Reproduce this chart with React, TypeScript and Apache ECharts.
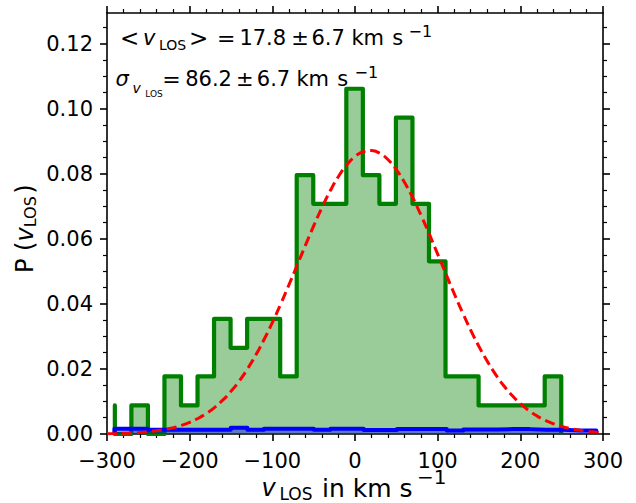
import React, { useEffect, useRef } from "react";
import * as echarts from "echarts";

// Histogram (green) bin edges and probabilities
const greenEdges = [
  -290.5, -270.5, -250.5, -230.5, -210.5, -190.5, -170.5, -150.5, -130.5, -110.5,
  -90.5, -70.5, -50.5, -30.5, -10.5, 9.5, 29.5, 49.5, 69.5, 89.5,
  109.5, 129.5, 149.5, 169.5, 189.5, 209.5, 229.5, 249.5,
];
const greenValues = [
  0, 0.0088, 0, 0.0177, 0.0088, 0.0177, 0.0354, 0.0265, 0.0354, 0.0354,
  0.0177, 0.0796, 0.0708, 0.0708, 0.1062, 0.0796, 0.0708, 0.0973, 0.0708, 0.0531,
  0.0177, 0.0177, 0.0088, 0.0088, 0.0088, 0.0088, 0.0177,
];
const greenLeftSpike = 0.0088;

// Blue histogram near zero
const blueEdges = [
  -291, -270.9, -250.8, -230.7, -210.6, -190.5, -170.4, -150.3, -130.2, -110.1,
  -90, -69.9, -49.8, -29.7, -9.6, 10.5, 30.6, 50.7, 70.8, 90.9,
  111, 131.1, 151.2, 171.3, 191.4, 211.5, 231.6, 251.7, 271.8, 291.9,
];
const blueValues = [
  0.0016, 0.0016, 0.0013, 0.0013, 0.0013, 0.0013, 0.0013, 0.0019, 0.0013, 0.0016,
  0.0016, 0.0016, 0.0013, 0.0016, 0.0016, 0.0012, 0.0012, 0.0015, 0.0015, 0.0015,
  0.0011, 0.0014, 0.0014, 0.0015, 0.0015, 0.0013, 0.0013, 0.0011, 0.0011,
];

// Red dashed fitted curve
const curveX = [
  -300, -290, -280, -270, -260, -250, -240, -230, -220, -210, -200, -190, -180, -170, -160,
  -150, -140, -130, -120, -110, -100, -90, -80, -70, -60, -50, -40, -30, -20, -10, 0,
  10, 20, 30, 40, 50, 60, 70, 80, 90, 100, 110, 120, 130, 140, 150,
  160, 170, 180, 190, 200, 210, 220, 230, 240, 250, 260, 270, 280, 290, 300,
];
const curveY = [
  0.0001, 0.00015, 0.00022, 0.00033, 0.00048, 0.0007, 0.001, 0.0014, 0.00194, 0.00265,
  0.00358, 0.00477, 0.00627, 0.00813, 0.0104, 0.01312, 0.01632, 0.02005, 0.0243, 0.02906,
  0.03428, 0.0399, 0.04582, 0.05191, 0.05802, 0.064, 0.06965, 0.07478, 0.0792, 0.08278,
  0.08536, 0.08684, 0.08717, 0.08633, 0.08436, 0.08132, 0.07735, 0.0726, 0.06721, 0.0614,
  0.05534, 0.04922, 0.04318, 0.03738, 0.03192, 0.0269, 0.02237, 0.01835, 0.01485, 0.01186,
  0.00934, 0.00726, 0.00557, 0.00421, 0.00315, 0.00232, 0.00168, 0.00121, 0.00085, 0.0006,
  0.00041,
];

const yTickValues = [0, 0.02, 0.04, 0.06, 0.08, 0.1, 0.12];

const FONT = "'DejaVu Sans', sans-serif";

function stepPoints(edges: number[], values: number[], spike = 0) {
  const pts: number[][] = [[edges[0], 0]];
  if (spike) {
    pts.push([edges[0], spike]);
    pts.push([edges[0], 0]);
  }
  for (let i = 0; i < values.length; i++) {
    pts.push([edges[i], values[i]]);
    pts.push([edges[i + 1], values[i]]);
  }
  pts.push([edges[edges.length - 1], 0]);
  return pts;
}

function tx(text: string, x: number, y: number, size: number, italic = false) {
  return {
    type: "text",
    x,
    y,
    z: 10,
    style: {
      text,
      fontSize: size,
      fontFamily: FONT,
      fontStyle: italic ? "italic" : "normal",
      fill: "#000",
      align: "left",
      verticalAlign: "middle",
      textAlign: "left",
      textVerticalAlign: "middle",
    },
  };
}

function minus(v: number) {
  return v < 0 ? "\u2212" + Math.abs(v) : String(v);
}

export default function App() {
  const ref = useRef<HTMLDivElement>(null);
  useEffect(() => {
    document.body.style.margin = "0";
    if (!ref.current) return;
    const chart = echarts.init(ref.current, undefined, { renderer: "svg" });

    const axisCommon = {
      type: "value",
      axisLine: { show: true, onZero: false, lineStyle: { color: "#000", width: 1.6 } },
      axisTick: { show: true, inside: false, length: 7, lineStyle: { color: "#000", width: 1.6 } },
      minorTick: { show: true, length: 4, lineStyle: { color: "#000", width: 1.2 } },
      splitLine: { show: false },
      minorSplitLine: { show: false },
    };

    const option: any = {
      animation: false,
      backgroundColor: "#fff",
      grid: { left: 107, right: 33, top: 13, bottom: 69, containLabel: false },
      xAxis: [
        {
          ...axisCommon,
          position: "bottom",
          min: -300,
          max: 300,
          interval: 100,
          minorTick: { ...axisCommon.minorTick, splitNumber: 5 },
          axisLabel: {
            show: true,
            fontSize: 21,
            fontFamily: FONT,
            color: "#000",
            margin: 16,
            formatter: (v: number) => minus(v),
          },
        },
        {
          ...axisCommon,
          position: "top",
          min: -300,
          max: 300,
          interval: 100,
          minorTick: { ...axisCommon.minorTick, splitNumber: 5 },
          axisLabel: { show: false },
        },
      ],
      yAxis: [
        {
          ...axisCommon,
          position: "left",
          min: 0,
          max: 0.1295,
          interval: 0.02,
          minorTick: { ...axisCommon.minorTick, splitNumber: 4 },
          axisTick: { ...axisCommon.axisTick, customValues: yTickValues },
          axisLabel: {
            show: true,
            fontSize: 21,
            fontFamily: FONT,
            color: "#000",
            margin: 14,
            customValues: yTickValues,
            formatter: (v: number) => (Math.abs(v - 0.1295) < 1e-6 ? "" : v.toFixed(2)),
          },
        },
        {
          ...axisCommon,
          position: "right",
          min: 0,
          max: 0.1295,
          interval: 0.02,
          minorTick: { ...axisCommon.minorTick, splitNumber: 4 },
          axisTick: { ...axisCommon.axisTick, customValues: yTickValues },
          axisLabel: { show: false },
        },
      ],
      series: [
        {
          type: "line",
          xAxisIndex: 0,
          yAxisIndex: 0,
          data: stepPoints(greenEdges, greenValues, greenLeftSpike),
          symbol: "none",
          z: 2,
          lineStyle: { color: "#008000", width: 4.2, join: "round" },
          areaStyle: { color: "rgba(0,128,0,0.4)", opacity: 1 },
        },
        {
          type: "line",
          xAxisIndex: 0,
          yAxisIndex: 0,
          data: stepPoints(blueEdges, blueValues),
          symbol: "none",
          z: 3,
          lineStyle: { color: "#0000ff", width: 4, join: "round" },
          areaStyle: { color: "rgba(0,0,255,0.4)", opacity: 1 },
        },
        {
          type: "line",
          xAxisIndex: 0,
          yAxisIndex: 0,
          data: curveX.map((x, i) => [x, curveY[i]]),
          symbol: "none",
          smooth: true,
          z: 4,
          lineStyle: { color: "#ff0000", width: 3, type: [10, 5] },
        },
      ],
      graphic: [
        // line 1: < v_LOS > = 17.8 ± 6.7 km s^-1
        tx("<", 120, 38.2, 23),
        tx("v", 143, 38.2, 21, true),
        tx("LOS", 159, 44.5, 14),
        tx(">", 189, 38.2, 23),
        tx("=", 217, 38.2, 22),
        tx("17.8", 239.4, 38.2, 21),
        tx("\u00b1", 291.3, 38.2, 21),
        tx("6.7", 311.5, 38.2, 21),
        tx("km", 351.4, 38.2, 21),
        tx("s", 392.2, 38.2, 21),
        tx("\u22121", 408.5, 31.5, 16),
        // line 2: sigma_{v_LOS} = 86.2 ± 6.7 km s^-1
        tx("\u03c3", 115.5, 79.4, 21, true),
        tx("v", 132.5, 87.9, 14, true),
        tx("LOS", 145.2, 94.2, 9),
        tx("=", 162.2, 79.4, 22),
        tx("86.2", 185.2, 79.4, 21),
        tx("\u00b1", 236, 79.4, 21),
        tx("6.7", 256.8, 79.4, 21),
        tx("km", 296.4, 79.4, 21),
        tx("s", 337.2, 79.4, 21),
        tx("\u22121", 354.5, 72.5, 16),
        // x axis label
        tx("v", 261.5, 488.4, 24, true),
        tx("LOS", 279.5, 494, 17),
        tx("in km s", 322, 488.4, 25),
        tx("\u22121", 417, 476.5, 20),
        // y axis label (rotated)
        {
          type: "group",
          x: 25,
          y: 273,
          rotation: Math.PI / 2,
          z: 10,
          children: [
            tx("P (", 0, 0, 24),
            tx("v", 31.5, 0, 24, true),
            tx("LOS", 45.7, 5.5, 16),
            tx(")", 79.3, 0, 24),
          ],
        },
      ],
    };

    chart.setOption(option);
    return () => chart.dispose();
  }, []);

  return <div ref={ref} style={{ width: 636, height: 503 }} />;
}
